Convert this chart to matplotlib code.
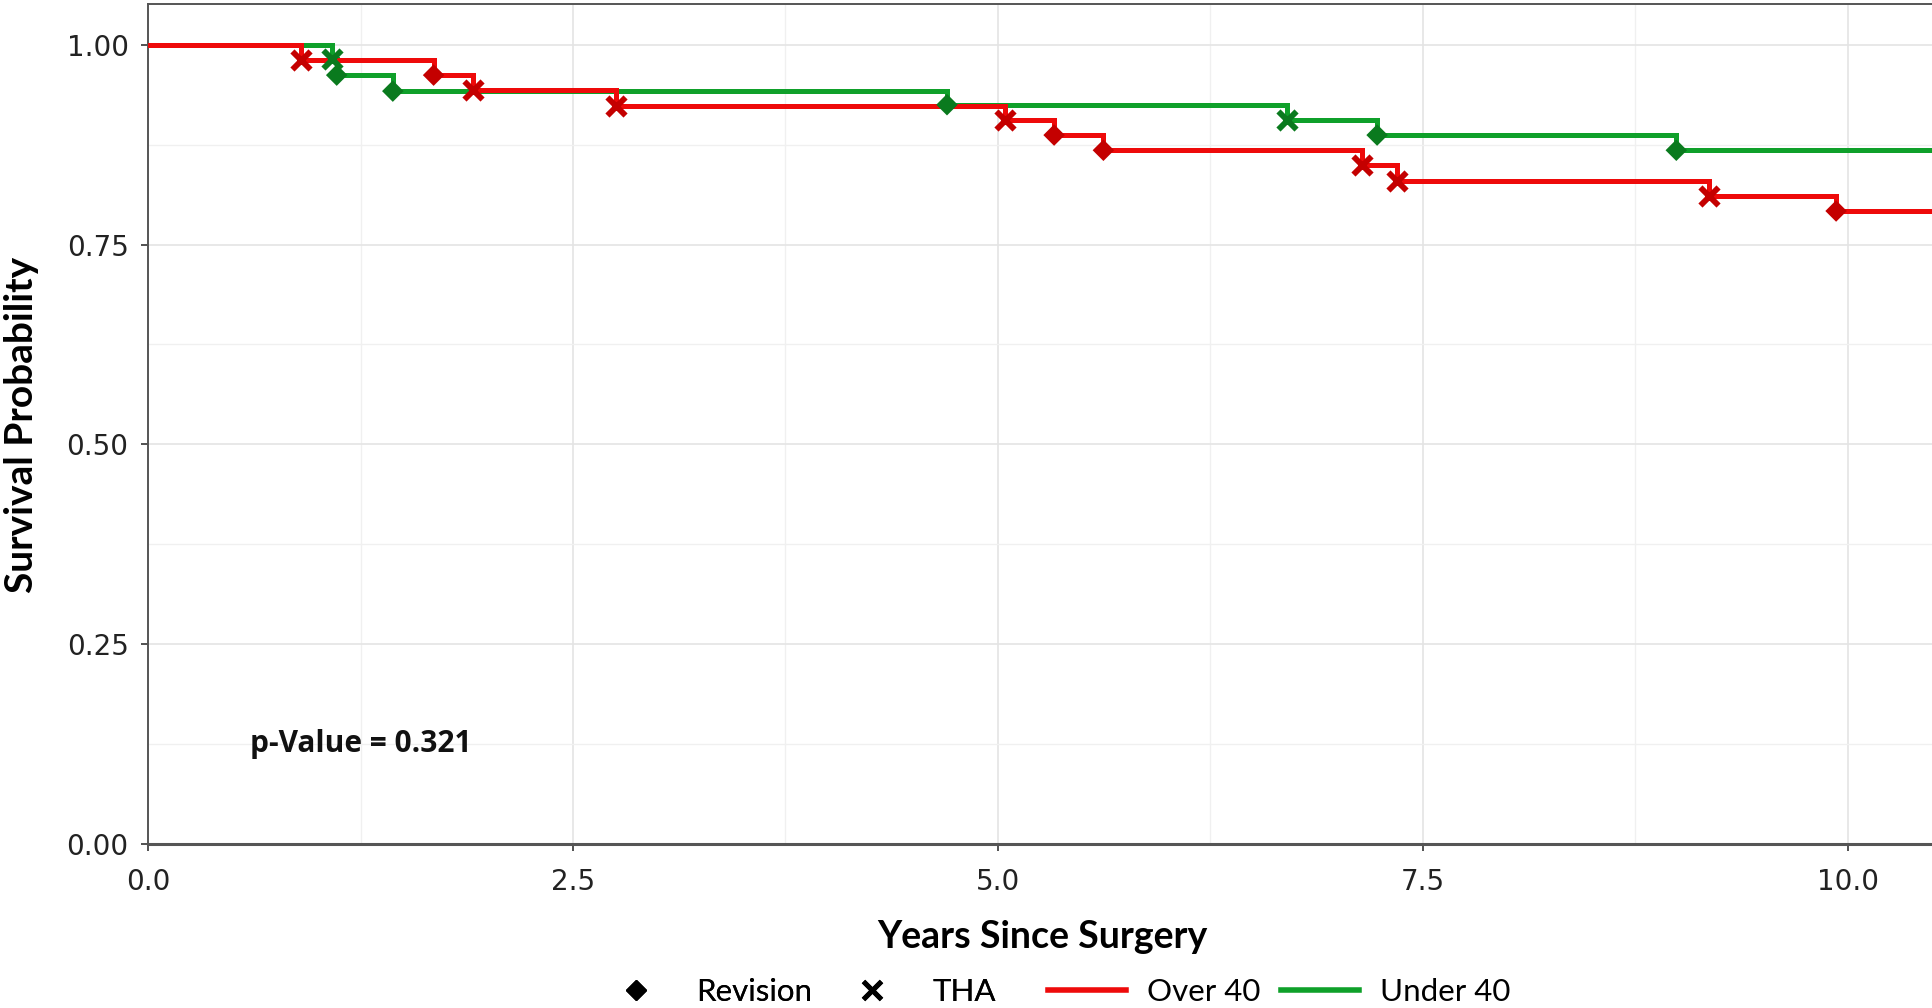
import matplotlib

matplotlib.use("Agg")
import matplotlib.pyplot as plt
from matplotlib.lines import Line2D
from matplotlib.ticker import MultipleLocator
import numpy as np

# ---------------------------------------------------------------------------
# Data
# ---------------------------------------------------------------------------
OVER40_TIMES = [0.90, 1.68, 1.91, 2.75, 5.04, 5.33, 5.62, 7.14, 7.35, 9.18, 9.93]
OVER40_SURV = [0.981, 0.962, 0.943, 0.924, 0.906, 0.887, 0.868, 0.849, 0.830, 0.811, 0.792]
OVER40_EVENT = ["THA", "Revision", "THA", "THA", "THA", "Revision", "Revision",
                "THA", "THA", "THA", "Revision"]

UNDER40_TIMES = [1.08, 1.11, 1.44, 4.70, 6.70, 7.23, 8.99]
UNDER40_SURV = [0.982, 0.962, 0.942, 0.925, 0.906, 0.887, 0.868]
UNDER40_EVENT = ["THA", "Revision", "Revision", "Revision", "THA", "Revision", "Revision"]

FOLLOW_UP_END = 10.5
P_VALUE_TEXT = "p-Value = 0.321"

X_TICKS = [0.0, 2.5, 5.0, 7.5, 10.0]
Y_TICKS = [0.0, 0.25, 0.5, 0.75, 1.0]

RED_LINE, RED_MARK = "#ee0a0a", "#c40000"
GREEN_LINE, GREEN_MARK = "#0fa02a", "#0a7a1e"
MARKERS = {"Revision": "D", "THA": "x"}

LABEL_FONT = ["Lato", "DejaVu Sans"]
TICK_FONT = ["DejaVu Sans"]


def draw_group(ax, times, surv, events, line_color, mark_color, zorder):
    t = np.concatenate([[0.0], times, [FOLLOW_UP_END]])
    s = np.concatenate([[1.0], surv, [surv[-1]]])
    ax.step(t, s, where="post", color=line_color, lw=3.6, zorder=zorder,
            solid_joinstyle="miter")
    for kind, marker in MARKERS.items():
        idx = [i for i, e in enumerate(events) if e == kind]
        if not idx:
            continue
        xs = np.asarray(times)[idx]
        ys = np.asarray(surv)[idx]
        if marker == "x":
            ax.scatter(xs, ys, marker="x", s=170, linewidths=4.2,
                       color=mark_color, zorder=5)
        else:
            ax.scatter(xs, ys, marker="D", s=120, color=mark_color,
                       edgecolors="none", zorder=5)


fig = plt.figure(figsize=(19.33, 10.08), dpi=100)
ax = fig.add_axes([148 / 1933, 1 - 844 / 1008, 1 - 148 / 1933, 840 / 1008])

draw_group(ax, UNDER40_TIMES, UNDER40_SURV, UNDER40_EVENT, GREEN_LINE, GREEN_MARK, 3)
draw_group(ax, OVER40_TIMES, OVER40_SURV, OVER40_EVENT, RED_LINE, RED_MARK, 4)

ax.set_xlim(0, FOLLOW_UP_END)
ax.set_ylim(0, 1.051)
ax.set_xticks(X_TICKS)
ax.set_yticks(Y_TICKS)
ax.set_xticklabels([f"{v:.1f}" for v in X_TICKS], fontsize=20, family=TICK_FONT,
                   color="#222222")
ax.set_yticklabels([f"{v:.2f}" for v in Y_TICKS], fontsize=20, family=TICK_FONT,
                   color="#222222")
ax.xaxis.set_minor_locator(MultipleLocator(1.25))
ax.yaxis.set_minor_locator(MultipleLocator(0.125))
ax.grid(True, which="major", color="#e4e4e4", lw=1.2)
ax.grid(True, which="minor", color="#f0f0f0", lw=1.0)
ax.set_axisbelow(True)
ax.tick_params(axis="x", which="major", pad=12)
ax.tick_params(axis="y", which="major", pad=9)
ax.tick_params(which="major", length=5, width=1.2, color="#333333")
ax.tick_params(which="minor", length=0)

for side in ("left", "bottom", "top"):
    ax.spines[side].set_color("#555555")
    ax.spines[side].set_linewidth(1.4)
ax.spines["bottom"].set_linewidth(2.2)
ax.spines["right"].set_visible(False)

ax.text(1.254, 0.125, P_VALUE_TEXT, fontsize=21.5, fontweight="bold",
        family=["Open Sans", "DejaVu Sans"], color="#111111",
        ha="center", va="center")

fig.text(1042 / 1933, 1 - 937 / 1008, "Years Since Surgery", fontsize=27,
         fontweight="bold", family=LABEL_FONT, ha="center", va="center")
fig.text(22 / 1933, 1 - 425 / 1008, "Survival Probability", fontsize=28,
         fontweight="bold", family=LABEL_FONT, ha="center", va="center",
         rotation=90)

legend_kw = dict(loc="center left", frameon=False, handlelength=2.5,
                 handletextpad=0.67, columnspacing=0.67, borderpad=0,
                 borderaxespad=0, prop={"family": LABEL_FONT, "size": 22.5})
shape_handles = [
    Line2D([], [], ls="none", marker="D", ms=10, color="black"),
    Line2D([], [], ls="none", marker="x", ms=13, mew=3.5, color="black"),
]
group_handles = [
    Line2D([], [], color=RED_LINE, lw=4),
    Line2D([], [], color=GREEN_LINE, lw=4),
]
leg1 = fig.legend(shape_handles, ["Revision", "THA"], ncol=2,
                  bbox_to_anchor=(597 / 1933, 1 - 992 / 1008), **legend_kw)
fig.add_artist(leg1)
fig.legend(group_handles, ["Over 40", "Under 40"], ncol=2,
           bbox_to_anchor=(1048 / 1933, 1 - 992 / 1008), **legend_kw)

fig.savefig("out.png", dpi=100)
